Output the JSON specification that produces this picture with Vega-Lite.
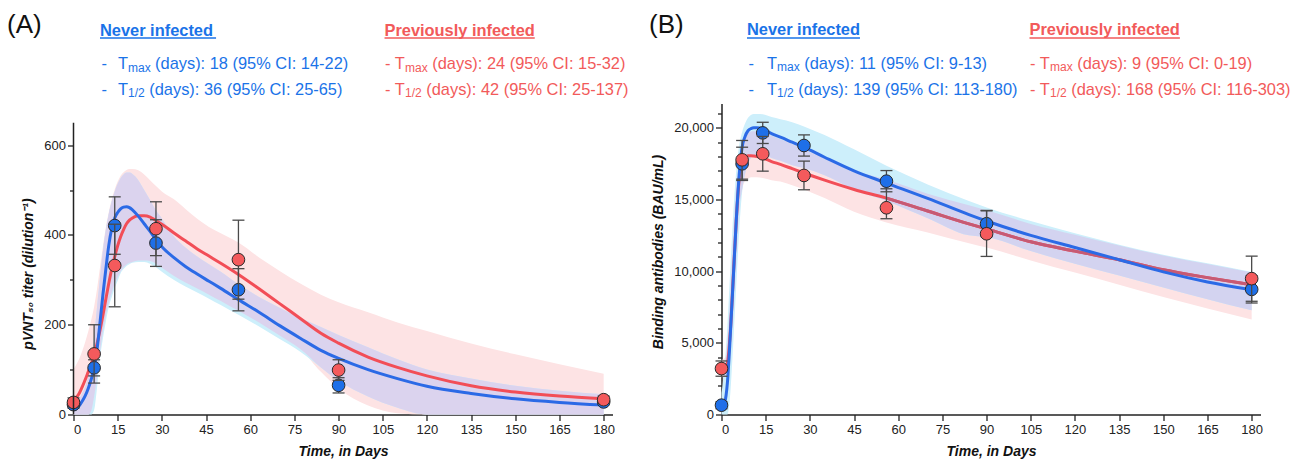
{
"$schema":"https://vega.github.io/schema/vega-lite/v6.json",
"background":"white",
"padding":{"left":6.5,"top":11.5,"right":5,"bottom":2},
"config":{"view":{"stroke":null},"font":"Liberation Sans",
"axis":{"grid":false,"domainColor":"#222","domainWidth":1.5,"tickColor":"#222","tickWidth":1.3,"labelFont":"Liberation Sans","labelFontSize":13,"labelColor":"#222","titleFont":"Liberation Sans","titleFontSize":14,"titleFontWeight":"bold","titleFontStyle":"italic","titleColor":"#111"}},
"datasets":{
"curvesA":[
{"day":0,"grp":"never","fit":10,"lo":0,"hi":22},{"day":1,"grp":"never","fit":14,"lo":0,"hi":28},{"day":2,"grp":"never","fit":20,"lo":0,"hi":36},{"day":3,"grp":"never","fit":30,"lo":0,"hi":48},{"day":4,"grp":"never","fit":42,"lo":0,"hi":62},{"day":5,"grp":"never","fit":58,"lo":0,"hi":85},{"day":6,"grp":"never","fit":78,"lo":0,"hi":120},{"day":7,"grp":"never","fit":104,"lo":10,"hi":175},{"day":8,"grp":"never","fit":145,"lo":60,"hi":240},{"day":9,"grp":"never","fit":205,"lo":125,"hi":305},{"day":10,"grp":"never","fit":268,"lo":170,"hi":365},{"day":11,"grp":"never","fit":325,"lo":208,"hi":412},{"day":12,"grp":"never","fit":378,"lo":240,"hi":448},{"day":13,"grp":"never","fit":415,"lo":262,"hi":475},{"day":14,"grp":"never","fit":438,"lo":282,"hi":497},{"day":15,"grp":"never","fit":450,"lo":298,"hi":514},{"day":16,"grp":"never","fit":458,"lo":315,"hi":527},{"day":17,"grp":"never","fit":462,"lo":324,"hi":535},{"day":18,"grp":"never","fit":463,"lo":331,"hi":539},{"day":19,"grp":"never","fit":461,"lo":335,"hi":539},{"day":20,"grp":"never","fit":456,"lo":338,"hi":536},{"day":22,"grp":"never","fit":442,"lo":340,"hi":522},{"day":24,"grp":"never","fit":425,"lo":340,"hi":500},{"day":26,"grp":"never","fit":408,"lo":336,"hi":478},{"day":28,"grp":"never","fit":390,"lo":328,"hi":455},{"day":30,"grp":"never","fit":374,"lo":318,"hi":437},{"day":34,"grp":"never","fit":350,"lo":300,"hi":398},{"day":38,"grp":"never","fit":330,"lo":285,"hi":372},{"day":42,"grp":"never","fit":313,"lo":272,"hi":352},{"day":46,"grp":"never","fit":297,"lo":258,"hi":335},{"day":50,"grp":"never","fit":281,"lo":244,"hi":318},{"day":56,"grp":"never","fit":256,"lo":222,"hi":290},{"day":63,"grp":"never","fit":228,"lo":196,"hi":262},{"day":70,"grp":"never","fit":198,"lo":168,"hi":238},{"day":77,"grp":"never","fit":170,"lo":140,"hi":215},{"day":84,"grp":"never","fit":143,"lo":105,"hi":195},{"day":90,"grp":"never","fit":125,"lo":75,"hi":177},{"day":100,"grp":"never","fit":100,"lo":40,"hi":150},{"day":110,"grp":"never","fit":80,"lo":15,"hi":123},{"day":120,"grp":"never","fit":63,"lo":0,"hi":100},{"day":135,"grp":"never","fit":47,"lo":0,"hi":80},{"day":150,"grp":"never","fit":35,"lo":0,"hi":64},{"day":165,"grp":"never","fit":27,"lo":0,"hi":53},{"day":180,"grp":"never","fit":21,"lo":0,"hi":45},
{"day":0,"grp":"prev","fit":30,"lo":0,"hi":100},{"day":1,"grp":"prev","fit":38,"lo":0,"hi":112},{"day":2,"grp":"prev","fit":48,"lo":0,"hi":125},{"day":3,"grp":"prev","fit":62,"lo":0,"hi":142},{"day":4,"grp":"prev","fit":78,"lo":0,"hi":162},{"day":5,"grp":"prev","fit":95,"lo":0,"hi":185},{"day":6,"grp":"prev","fit":112,"lo":8,"hi":210},{"day":7,"grp":"prev","fit":132,"lo":40,"hi":240},{"day":8,"grp":"prev","fit":158,"lo":85,"hi":280},{"day":9,"grp":"prev","fit":188,"lo":140,"hi":328},{"day":10,"grp":"prev","fit":222,"lo":185,"hi":375},{"day":11,"grp":"prev","fit":258,"lo":222,"hi":418},{"day":12,"grp":"prev","fit":293,"lo":250,"hi":452},{"day":13,"grp":"prev","fit":325,"lo":272,"hi":480},{"day":14,"grp":"prev","fit":352,"lo":292,"hi":502},{"day":15,"grp":"prev","fit":376,"lo":307,"hi":519},{"day":16,"grp":"prev","fit":396,"lo":319,"hi":532},{"day":17,"grp":"prev","fit":412,"lo":328,"hi":540},{"day":18,"grp":"prev","fit":425,"lo":334,"hi":545},{"day":19,"grp":"prev","fit":433,"lo":338,"hi":547},{"day":20,"grp":"prev","fit":438,"lo":340,"hi":547},{"day":22,"grp":"prev","fit":443,"lo":343,"hi":544},{"day":24,"grp":"prev","fit":443,"lo":343,"hi":535},{"day":26,"grp":"prev","fit":440,"lo":342,"hi":522},{"day":28,"grp":"prev","fit":432,"lo":336,"hi":509},{"day":30,"grp":"prev","fit":424,"lo":327,"hi":497},{"day":34,"grp":"prev","fit":405,"lo":309,"hi":480},{"day":38,"grp":"prev","fit":387,"lo":294,"hi":458},{"day":42,"grp":"prev","fit":369,"lo":281,"hi":436},{"day":46,"grp":"prev","fit":353,"lo":267,"hi":418},{"day":50,"grp":"prev","fit":337,"lo":253,"hi":404},{"day":56,"grp":"prev","fit":312,"lo":231,"hi":383},{"day":63,"grp":"prev","fit":280,"lo":205,"hi":350},{"day":70,"grp":"prev","fit":247,"lo":176,"hi":320},{"day":77,"grp":"prev","fit":214,"lo":146,"hi":292},{"day":84,"grp":"prev","fit":181,"lo":95,"hi":267},{"day":90,"grp":"prev","fit":159,"lo":58,"hi":250},{"day":100,"grp":"prev","fit":128,"lo":20,"hi":228},{"day":110,"grp":"prev","fit":105,"lo":3,"hi":205},{"day":120,"grp":"prev","fit":86,"lo":0,"hi":186},{"day":135,"grp":"prev","fit":64,"lo":0,"hi":158},{"day":150,"grp":"prev","fit":50,"lo":0,"hi":134},{"day":165,"grp":"prev","fit":41,"lo":0,"hi":112},{"day":180,"grp":"prev","fit":35,"lo":0,"hi":91},
{"day":0,"grp":"both","lo":0,"hi":22},{"day":1,"grp":"both","lo":0,"hi":28},{"day":2,"grp":"both","lo":0,"hi":36},{"day":3,"grp":"both","lo":0,"hi":48},{"day":4,"grp":"both","lo":0,"hi":62},{"day":5,"grp":"both","lo":0,"hi":85},{"day":6,"grp":"both","lo":8,"hi":120},{"day":7,"grp":"both","lo":40,"hi":175},{"day":8,"grp":"both","lo":85,"hi":240},{"day":9,"grp":"both","lo":140,"hi":305},{"day":10,"grp":"both","lo":185,"hi":365},{"day":11,"grp":"both","lo":222,"hi":412},{"day":12,"grp":"both","lo":250,"hi":448},{"day":13,"grp":"both","lo":272,"hi":475},{"day":14,"grp":"both","lo":292,"hi":497},{"day":15,"grp":"both","lo":307,"hi":514},{"day":16,"grp":"both","lo":319,"hi":527},{"day":17,"grp":"both","lo":328,"hi":535},{"day":18,"grp":"both","lo":334,"hi":539},{"day":19,"grp":"both","lo":338,"hi":539},{"day":20,"grp":"both","lo":340,"hi":536},{"day":22,"grp":"both","lo":343,"hi":522},{"day":24,"grp":"both","lo":343,"hi":500},{"day":26,"grp":"both","lo":342,"hi":478},{"day":28,"grp":"both","lo":336,"hi":455},{"day":30,"grp":"both","lo":327,"hi":437},{"day":34,"grp":"both","lo":309,"hi":398},{"day":38,"grp":"both","lo":294,"hi":372},{"day":42,"grp":"both","lo":281,"hi":352},{"day":46,"grp":"both","lo":267,"hi":335},{"day":50,"grp":"both","lo":253,"hi":318},{"day":56,"grp":"both","lo":231,"hi":290},{"day":63,"grp":"both","lo":205,"hi":262},{"day":70,"grp":"both","lo":176,"hi":238},{"day":77,"grp":"both","lo":146,"hi":215},{"day":84,"grp":"both","lo":105,"hi":195},{"day":90,"grp":"both","lo":75,"hi":177},{"day":100,"grp":"both","lo":40,"hi":150},{"day":110,"grp":"both","lo":15,"hi":123},{"day":120,"grp":"both","lo":0,"hi":100},{"day":135,"grp":"both","lo":0,"hi":80},{"day":150,"grp":"both","lo":0,"hi":64},{"day":165,"grp":"both","lo":0,"hi":53},{"day":180,"grp":"both","lo":0,"hi":45}],
"ptsA":[
{"day":0,"grp":"never","mean":22,"lo":14,"hi":30},{"day":7,"grp":"never","mean":104,"lo":86,"hi":122},{"day":14,"grp":"never","mean":421,"lo":357,"hi":485},{"day":28,"grp":"never","mean":382,"lo":330,"hi":434},{"day":56,"grp":"never","mean":278,"lo":231,"hi":325},{"day":90,"grp":"never","mean":65,"lo":48,"hi":82},{"day":180,"grp":"never","mean":28,"lo":22,"hi":34},
{"day":0,"grp":"prev","mean":27,"lo":17,"hi":37},{"day":7,"grp":"prev","mean":135,"lo":70,"hi":200},{"day":14,"grp":"prev","mean":332,"lo":240,"hi":424},{"day":28,"grp":"prev","mean":414,"lo":354,"hi":474},{"day":56,"grp":"prev","mean":345,"lo":257,"hi":433},{"day":90,"grp":"prev","mean":99,"lo":76,"hi":122},{"day":180,"grp":"prev","mean":33,"lo":25,"hi":41}],
"notesA":[
{"note":"(A)","day":-22.58,"value":851.2,"grp":"label","kind":"panel"},
{"note":"Never infected","day":9.0,"value":844.5,"grp":"never","kind":"head"},
{"note":"Previously infected","day":105.59,"value":844.5,"grp":"prev","kind":"head"},
{"note":"-","day":9.51,"value":770.3,"grp":"never","kind":"body"},
{"note":"T","day":15.11,"value":770.3,"grp":"never","kind":"body"},
{"note":"max","day":18.5,"value":764.3,"grp":"never","kind":"sub"},
{"note":"(days): 18 (95% CI: 14-22)","day":27.7,"value":770.3,"grp":"never","kind":"body"},
{"note":"-","day":9.51,"value":712.4,"grp":"never","kind":"body"},
{"note":"T","day":15.11,"value":712.4,"grp":"never","kind":"body"},
{"note":"1/2","day":18.5,"value":706.4,"grp":"never","kind":"sub"},
{"note":"(days): 36 (95% CI: 25-65)","day":25.73,"value":712.4,"grp":"never","kind":"body"},
{"note":"- T","day":105.76,"value":770.3,"grp":"prev","kind":"body"},
{"note":"max","day":112.55,"value":764.3,"grp":"prev","kind":"sub"},
{"note":"(days): 24 (95% CI: 15-32)","day":121.81,"value":770.3,"grp":"prev","kind":"body"},
{"note":"- T","day":105.76,"value":712.4,"grp":"prev","kind":"body"},
{"note":"1/2","day":112.55,"value":706.4,"grp":"prev","kind":"sub"},
{"note":"(days): 42 (95% CI: 25-137)","day":119.78,"value":712.4,"grp":"prev","kind":"body"}],
"linesA":[{"day":9.0,"day2":48.4,"value":838.9,"grp":"never"},{"day":105.6,"day2":156.6,"value":838.9,"grp":"prev"}],
"curvesB":[
{"day":0,"grp":"never","fit":300,"lo":0,"hi":1500},{"day":1,"grp":"never","fit":700,"lo":0,"hi":3200},{"day":2,"grp":"never","fit":2200,"lo":0,"hi":6200},{"day":3,"grp":"never","fit":5600,"lo":1500,"hi":10200},{"day":4,"grp":"never","fit":9500,"lo":5000,"hi":14000},{"day":5,"grp":"never","fit":13500,"lo":9000,"hi":17000},{"day":6,"grp":"never","fit":16700,"lo":12800,"hi":18800},{"day":7,"grp":"never","fit":18650,"lo":15500,"hi":19700},{"day":8,"grp":"never","fit":19400,"lo":16800,"hi":20300},{"day":9,"grp":"never","fit":19800,"lo":17500,"hi":20700},{"day":10,"grp":"never","fit":19950,"lo":17900,"hi":20900},{"day":11,"grp":"never","fit":20000,"lo":18050,"hi":20970},{"day":12,"grp":"never","fit":20000,"lo":18100,"hi":20975},{"day":14,"grp":"never","fit":19930,"lo":18100,"hi":20950},{"day":17,"grp":"never","fit":19600,"lo":17900,"hi":20750},{"day":20,"grp":"never","fit":19350,"lo":17700,"hi":20600},{"day":24,"grp":"never","fit":19000,"lo":17400,"hi":20400},{"day":28,"grp":"never","fit":18650,"lo":17200,"hi":20100},{"day":35,"grp":"never","fit":17950,"lo":16700,"hi":19500},{"day":45,"grp":"never","fit":17000,"lo":15700,"hi":18500},{"day":56,"grp":"never","fit":16150,"lo":14900,"hi":17350},{"day":70,"grp":"never","fit":15080,"lo":13700,"hi":16050},{"day":84,"grp":"never","fit":13950,"lo":12500,"hi":14900},{"day":90,"grp":"never","fit":13500,"lo":12380,"hi":14450},{"day":105,"grp":"never","fit":12500,"lo":11400,"hi":13500},{"day":120,"grp":"never","fit":11650,"lo":10520,"hi":12650},{"day":135,"grp":"never","fit":10800,"lo":9700,"hi":11850},{"day":150,"grp":"never","fit":9950,"lo":8870,"hi":11150},{"day":165,"grp":"never","fit":9250,"lo":8050,"hi":10550},{"day":180,"grp":"never","fit":8700,"lo":7270,"hi":9950},
{"day":0,"grp":"prev","fit":3200,"lo":2600,"hi":3800},{"day":1,"grp":"prev","fit":3250,"lo":2650,"hi":3900},{"day":2,"grp":"prev","fit":3600,"lo":2800,"hi":5000},{"day":3,"grp":"prev","fit":5800,"lo":3800,"hi":8500},{"day":4,"grp":"prev","fit":9600,"lo":7000,"hi":12500},{"day":5,"grp":"prev","fit":13500,"lo":11000,"hi":15800},{"day":6,"grp":"prev","fit":16400,"lo":14300,"hi":17900},{"day":7,"grp":"prev","fit":17600,"lo":15700,"hi":18800},{"day":8,"grp":"prev","fit":17950,"lo":16300,"hi":19500},{"day":9,"grp":"prev","fit":18050,"lo":16450,"hi":19650},{"day":10,"grp":"prev","fit":18050,"lo":16550,"hi":19750},{"day":11,"grp":"prev","fit":18030,"lo":16560,"hi":19760},{"day":12,"grp":"prev","fit":18000,"lo":16550,"hi":19760},{"day":14,"grp":"prev","fit":17900,"lo":16500,"hi":19700},{"day":17,"grp":"prev","fit":17650,"lo":16350,"hi":19450},{"day":20,"grp":"prev","fit":17450,"lo":16250,"hi":19200},{"day":24,"grp":"prev","fit":17150,"lo":16000,"hi":18900},{"day":28,"grp":"prev","fit":16850,"lo":15700,"hi":18500},{"day":35,"grp":"prev","fit":16350,"lo":15100,"hi":17900},{"day":45,"grp":"prev","fit":15700,"lo":14150,"hi":17000},{"day":56,"grp":"prev","fit":15100,"lo":13400,"hi":16400},{"day":70,"grp":"prev","fit":14200,"lo":12700,"hi":15400},{"day":84,"grp":"prev","fit":13300,"lo":11950,"hi":14600},{"day":90,"grp":"prev","fit":12950,"lo":11650,"hi":14250},{"day":105,"grp":"prev","fit":12050,"lo":10750,"hi":13300},{"day":120,"grp":"prev","fit":11400,"lo":9900,"hi":12550},{"day":135,"grp":"prev","fit":10800,"lo":9050,"hi":11800},{"day":150,"grp":"prev","fit":10100,"lo":8200,"hi":11100},{"day":165,"grp":"prev","fit":9550,"lo":7400,"hi":10500},{"day":180,"grp":"prev","fit":9050,"lo":6620,"hi":9900},
{"day":0,"grp":"both","lo":1500,"hi":1500},{"day":1,"grp":"both","lo":2650,"hi":3200},{"day":2,"grp":"both","lo":2800,"hi":5000},{"day":3,"grp":"both","lo":3800,"hi":8500},{"day":4,"grp":"both","lo":7000,"hi":12500},{"day":5,"grp":"both","lo":11000,"hi":15800},{"day":6,"grp":"both","lo":14300,"hi":17900},{"day":7,"grp":"both","lo":15700,"hi":18800},{"day":8,"grp":"both","lo":16800,"hi":19500},{"day":9,"grp":"both","lo":17500,"hi":19650},{"day":10,"grp":"both","lo":17900,"hi":19750},{"day":11,"grp":"both","lo":18050,"hi":19760},{"day":12,"grp":"both","lo":18100,"hi":19760},{"day":14,"grp":"both","lo":18100,"hi":19700},{"day":17,"grp":"both","lo":17900,"hi":19450},{"day":20,"grp":"both","lo":17700,"hi":19200},{"day":24,"grp":"both","lo":17400,"hi":18900},{"day":28,"grp":"both","lo":17200,"hi":18500},{"day":35,"grp":"both","lo":16700,"hi":17900},{"day":45,"grp":"both","lo":15700,"hi":17000},{"day":56,"grp":"both","lo":14900,"hi":16400},{"day":70,"grp":"both","lo":13700,"hi":15400},{"day":84,"grp":"both","lo":12500,"hi":14600},{"day":90,"grp":"both","lo":12380,"hi":14250},{"day":105,"grp":"both","lo":11400,"hi":13300},{"day":120,"grp":"both","lo":10520,"hi":12550},{"day":135,"grp":"both","lo":9700,"hi":11800},{"day":150,"grp":"both","lo":8870,"hi":11100},{"day":165,"grp":"both","lo":8050,"hi":10500},{"day":180,"grp":"both","lo":7270,"hi":9900}],
"ptsB":[
{"day":0,"grp":"never","mean":650,"lo":400,"hi":900},{"day":7,"grp":"never","mean":17490,"lo":16330,"hi":18650},{"day":14,"grp":"never","mean":19650,"lo":18910,"hi":20390},{"day":28,"grp":"never","mean":18770,"lo":18030,"hi":19510},{"day":56,"grp":"never","mean":16280,"lo":15540,"hi":17020},{"day":90,"grp":"never","mean":13310,"lo":12410,"hi":14210},{"day":180,"grp":"never","mean":8730,"lo":7780,"hi":9680},
{"day":0,"grp":"prev","mean":3205,"lo":2670,"hi":3735},{"day":7,"grp":"prev","mean":17770,"lo":16420,"hi":19120},{"day":14,"grp":"prev","mean":18190,"lo":16980,"hi":19400},{"day":28,"grp":"prev","mean":16680,"lo":15680,"hi":17680},{"day":56,"grp":"prev","mean":14425,"lo":13660,"hi":15750},{"day":90,"grp":"prev","mean":12610,"lo":11030,"hi":14240},{"day":180,"grp":"prev","mean":9480,"lo":7900,"hi":11050}],
"notesB":[
{"note":"(B)","day":-24.61,"value":26654,"grp":"label","kind":"panel"},
{"note":"Never infected","day":8.66,"value":26445,"grp":"never","kind":"head"},
{"note":"Previously infected","day":104.57,"value":26445,"grp":"prev","kind":"head"},
{"note":"-","day":9.17,"value":24121,"grp":"never","kind":"body"},
{"note":"T","day":15.45,"value":24121,"grp":"never","kind":"body"},
{"note":"max","day":18.84,"value":23933,"grp":"never","kind":"sub"},
{"note":"(days): 11 (95% CI: 9-13)","day":28.1,"value":24121,"grp":"never","kind":"body"},
{"note":"-","day":9.17,"value":22307,"grp":"never","kind":"body"},
{"note":"T","day":15.45,"value":22307,"grp":"never","kind":"body"},
{"note":"1/2","day":18.84,"value":22119,"grp":"never","kind":"sub"},
{"note":"(days): 139 (95% CI: 113-180)","day":26.07,"value":22307,"grp":"never","kind":"body"},
{"note":"- T","day":104.74,"value":24121,"grp":"prev","kind":"body"},
{"note":"max","day":111.53,"value":23933,"grp":"prev","kind":"sub"},
{"note":"(days): 9 (95% CI: 0-19)","day":120.8,"value":24121,"grp":"prev","kind":"body"},
{"note":"- T","day":104.74,"value":22307,"grp":"prev","kind":"body"},
{"note":"1/2","day":111.53,"value":22119,"grp":"prev","kind":"sub"},
{"note":"(days): 168 (95% CI: 116-303)","day":118.76,"value":22307,"grp":"prev","kind":"body"}],
"linesB":[{"day":8.66,"day2":47.02,"value":26270,"grp":"never"},{"day":104.57,"day2":155.63,"value":26270,"grp":"prev"}]
},
"spacing":109,
"bounds":"flush",
"hconcat":[
{"width":539,"height":311,
"layer":[
{"data":{"name":"curvesA"},"transform":[{"filter":"datum.grp === 'prev'"}],"mark":{"type":"area","color":"#FDE3E4","interpolate":"monotone"},
"encoding":{"x":{"field":"day","type":"quantitative","scale":{"domain":[0,183],"nice":false,"zero":false},"axis":{"title":"Time, in Days","values":[0,7.5,15,22.5,30,37.5,45,52.5,60,67.5,75,82.5,90,97.5,105,112.5,120,127.5,135,142.5,150,157.5,165,172.5,180],"labelExpr":"datum.value % 15 === 0 ? format(datum.value, 'd') : ''","tickSize":{"condition":{"test":"datum.value % 15 === 0","value":6},"value":4},"labelPadding":3,"titlePadding":8,"labelOverlap":false}},
"y":{"field":"lo","type":"quantitative","scale":{"domain":[0,693],"nice":false},"axis":{"title":"pVNT₅₀ titer (dilution⁻¹)","values":[0,50,100,150,200,250,300,350,400,450,500,550,600,650],"labelExpr":"datum.value % 200 === 0 ? format(datum.value, 'd') : ''","tickSize":{"condition":{"test":"datum.value % 200 === 0","value":6},"value":4},"domain":false,"labelPadding":2,"titlePadding":8,"titleY":170,"labelOverlap":false}},
"y2":{"field":"hi"}}},
{"data":{"name":"curvesA"},"transform":[{"filter":"datum.grp === 'never'"}],"mark":{"type":"area","color":"#CDEFFB","interpolate":"monotone"},"encoding":{"x":{"field":"day","type":"quantitative"},"y":{"field":"lo","type":"quantitative"},"y2":{"field":"hi"}}},
{"data":{"name":"curvesA"},"transform":[{"filter":"datum.grp === 'both'"}],"mark":{"type":"area","color":"#DBD3EE","interpolate":"monotone"},"encoding":{"x":{"field":"day","type":"quantitative"},"y":{"field":"lo","type":"quantitative"},"y2":{"field":"hi"}}},
{"data":{"name":"curvesA"},"transform":[{"filter":"datum.grp === 'prev'"}],"mark":{"type":"line","color":"#F24E57","strokeWidth":3,"interpolate":"monotone"},"encoding":{"x":{"field":"day","type":"quantitative"},"y":{"field":"fit","type":"quantitative"}}},
{"data":{"name":"curvesA"},"transform":[{"filter":"datum.grp === 'never'"}],"mark":{"type":"line","color":"#2B6AE6","strokeWidth":3,"interpolate":"monotone"},"encoding":{"x":{"field":"day","type":"quantitative"},"y":{"field":"fit","type":"quantitative"}}},
{"data":{"name":"ptsA"},"transform":[{"filter":"datum.grp === 'never'"}],"mark":{"type":"rule","color":"#4a4a4a","strokeWidth":1.3},"encoding":{"x":{"field":"day","type":"quantitative"},"y":{"field":"lo","type":"quantitative"},"y2":{"field":"hi"}}},
{"data":{"name":"ptsA"},"transform":[{"filter":"datum.grp === 'never'"}],"mark":{"type":"tick","orient":"horizontal","size":12,"thickness":1.3,"color":"#4a4a4a","opacity":1},"encoding":{"x":{"field":"day","type":"quantitative"},"y":{"field":"lo","type":"quantitative"}}},
{"data":{"name":"ptsA"},"transform":[{"filter":"datum.grp === 'never'"}],"mark":{"type":"tick","orient":"horizontal","size":12,"thickness":1.3,"color":"#4a4a4a","opacity":1},"encoding":{"x":{"field":"day","type":"quantitative"},"y":{"field":"hi","type":"quantitative"}}},
{"data":{"name":"ptsA"},"transform":[{"filter":"datum.grp === 'never'"}],"mark":{"type":"circle","size":160,"color":"#1E6FE8","stroke":"#2a2a2a","strokeWidth":1,"opacity":1},"encoding":{"x":{"field":"day","type":"quantitative"},"y":{"field":"mean","type":"quantitative"}}},
{"data":{"name":"ptsA"},"transform":[{"filter":"datum.grp === 'prev'"}],"mark":{"type":"rule","color":"#4a4a4a","strokeWidth":1.3},"encoding":{"x":{"field":"day","type":"quantitative"},"y":{"field":"lo","type":"quantitative"},"y2":{"field":"hi"}}},
{"data":{"name":"ptsA"},"transform":[{"filter":"datum.grp === 'prev'"}],"mark":{"type":"tick","orient":"horizontal","size":12,"thickness":1.3,"color":"#4a4a4a","opacity":1},"encoding":{"x":{"field":"day","type":"quantitative"},"y":{"field":"lo","type":"quantitative"}}},
{"data":{"name":"ptsA"},"transform":[{"filter":"datum.grp === 'prev'"}],"mark":{"type":"tick","orient":"horizontal","size":12,"thickness":1.3,"color":"#4a4a4a","opacity":1},"encoding":{"x":{"field":"day","type":"quantitative"},"y":{"field":"hi","type":"quantitative"}}},
{"data":{"name":"ptsA"},"transform":[{"filter":"datum.grp === 'prev'"}],"mark":{"type":"circle","size":160,"color":"#F45A5C","stroke":"#2a2a2a","strokeWidth":1,"opacity":1},"encoding":{"x":{"field":"day","type":"quantitative"},"y":{"field":"mean","type":"quantitative"}}},
{"data":{"values":[{}]},"mark":{"type":"rule","color":"#222","strokeWidth":1.5},"encoding":{"x":{"datum":0,"type":"quantitative"},"y":{"datum":0,"type":"quantitative"},"y2":{"datum":650}}},
{"data":{"name":"notesA"},"transform":[{"filter":"datum.kind === 'panel'"}],"mark":{"type":"text","align":"left","baseline":"alphabetic","fontSize":26},"encoding":{"x":{"field":"day","type":"quantitative"},"y":{"field":"value","type":"quantitative"},"text":{"field":"note"},"color":{"field":"grp","type":"nominal","scale":{"domain":["never","prev","label"],"range":["#1A73E8","#F25A5A","#111111"]},"legend":null}}},
{"data":{"name":"notesA"},"transform":[{"filter":"datum.kind === 'head'"}],"mark":{"type":"text","align":"left","baseline":"alphabetic","fontSize":16.4,"fontWeight":"bold"},"encoding":{"x":{"field":"day","type":"quantitative"},"y":{"field":"value","type":"quantitative"},"text":{"field":"note"},"color":{"field":"grp","type":"nominal","legend":null}}},
{"data":{"name":"linesA"},"mark":{"type":"rule","strokeWidth":1.4},"encoding":{"x":{"field":"day","type":"quantitative"},"x2":{"field":"day2"},"y":{"field":"value","type":"quantitative"},"color":{"field":"grp","type":"nominal","legend":null}}},
{"data":{"name":"notesA"},"transform":[{"filter":"datum.kind === 'body'"}],"mark":{"type":"text","align":"left","baseline":"alphabetic","fontSize":16.4},"encoding":{"x":{"field":"day","type":"quantitative"},"y":{"field":"value","type":"quantitative"},"text":{"field":"note"},"color":{"field":"grp","type":"nominal","legend":null}}},
{"data":{"name":"notesA"},"transform":[{"filter":"datum.kind === 'sub'"}],"mark":{"type":"text","align":"left","baseline":"alphabetic","fontSize":12},"encoding":{"x":{"field":"day","type":"quantitative"},"y":{"field":"value","type":"quantitative"},"text":{"field":"note"},"color":{"field":"grp","type":"nominal","legend":null}}}
]},
{"width":539,"height":311,
"resolve":{"axis":{"y":"independent"}},
"layer":[
{"data":{"name":"curvesB"},"transform":[{"filter":"datum.grp === 'prev'"}],"mark":{"type":"area","color":"#FDE3E4","interpolate":"monotone"},
"encoding":{"x":{"field":"day","type":"quantitative","scale":{"domain":[0,183],"nice":false,"zero":false},"axis":{"title":"Time, in Days","values":[0,7.5,15,22.5,30,37.5,45,52.5,60,67.5,75,82.5,90,97.5,105,112.5,120,127.5,135,142.5,150,157.5,165,172.5,180],"labelExpr":"datum.value % 15 === 0 ? format(datum.value, 'd') : ''","tickSize":{"condition":{"test":"datum.value % 15 === 0","value":6},"value":4},"labelPadding":3,"titlePadding":8,"labelOverlap":false}},
"y":{"field":"lo","type":"quantitative","scale":{"domain":[0,21700],"nice":false},"axis":{"orient":"left","title":"Binding antibodies (BAU/mL)","values":[0,5000,10000,15000,20000],"format":",d","tickSize":6,"labelPadding":2,"titlePadding":8,"titleY":148,"labelOverlap":false}},
"y2":{"field":"hi"}}},
{"data":{"name":"curvesB"},"transform":[{"filter":"datum.grp === 'never'"}],"mark":{"type":"area","color":"#CDEFFB","interpolate":"monotone"},"encoding":{"x":{"field":"day","type":"quantitative"},"y":{"field":"lo","type":"quantitative","axis":{"orient":"left","title":null,"values":[1000,2000,3000,4000,6000,7000,8000,9000,11000,12000,13000,14000,16000,17000,18000,19000,21000],"labels":false,"domain":false,"tickSize":4}},"y2":{"field":"hi"}}},
{"data":{"name":"curvesB"},"transform":[{"filter":"datum.grp === 'both'"}],"mark":{"type":"area","color":"#D3D3F0","interpolate":"monotone"},"encoding":{"x":{"field":"day","type":"quantitative"},"y":{"field":"lo","type":"quantitative","axis":null},"y2":{"field":"hi"}}},
{"data":{"name":"curvesB"},"transform":[{"filter":"datum.grp === 'prev'"}],"mark":{"type":"line","color":"#F24E57","strokeWidth":3,"interpolate":"monotone"},"encoding":{"x":{"field":"day","type":"quantitative"},"y":{"field":"fit","type":"quantitative","axis":null}}},
{"data":{"name":"curvesB"},"transform":[{"filter":"datum.grp === 'prev' && datum.day >= 56"}],"mark":{"type":"line","color":"#C65A74","strokeWidth":3,"interpolate":"monotone"},"encoding":{"x":{"field":"day","type":"quantitative"},"y":{"field":"fit","type":"quantitative","axis":null}}},
{"data":{"name":"curvesB"},"transform":[{"filter":"datum.grp === 'never'"}],"mark":{"type":"line","color":"#2B6AE6","strokeWidth":3,"interpolate":"monotone"},"encoding":{"x":{"field":"day","type":"quantitative"},"y":{"field":"fit","type":"quantitative","axis":null}}},
{"data":{"name":"ptsB"},"transform":[{"filter":"datum.grp === 'never'"}],"mark":{"type":"rule","color":"#4a4a4a","strokeWidth":1.3},"encoding":{"x":{"field":"day","type":"quantitative"},"y":{"field":"lo","type":"quantitative","axis":null},"y2":{"field":"hi"}}},
{"data":{"name":"ptsB"},"transform":[{"filter":"datum.grp === 'never'"}],"mark":{"type":"tick","orient":"horizontal","size":12,"thickness":1.3,"color":"#4a4a4a","opacity":1},"encoding":{"x":{"field":"day","type":"quantitative"},"y":{"field":"lo","type":"quantitative","axis":null}}},
{"data":{"name":"ptsB"},"transform":[{"filter":"datum.grp === 'never'"}],"mark":{"type":"tick","orient":"horizontal","size":12,"thickness":1.3,"color":"#4a4a4a","opacity":1},"encoding":{"x":{"field":"day","type":"quantitative"},"y":{"field":"hi","type":"quantitative","axis":null}}},
{"data":{"name":"ptsB"},"transform":[{"filter":"datum.grp === 'never'"}],"mark":{"type":"circle","size":160,"color":"#1E6FE8","stroke":"#2a2a2a","strokeWidth":1,"opacity":1},"encoding":{"x":{"field":"day","type":"quantitative"},"y":{"field":"mean","type":"quantitative","axis":null}}},
{"data":{"name":"ptsB"},"transform":[{"filter":"datum.grp === 'prev'"}],"mark":{"type":"rule","color":"#4a4a4a","strokeWidth":1.3},"encoding":{"x":{"field":"day","type":"quantitative"},"y":{"field":"lo","type":"quantitative","axis":null},"y2":{"field":"hi"}}},
{"data":{"name":"ptsB"},"transform":[{"filter":"datum.grp === 'prev'"}],"mark":{"type":"tick","orient":"horizontal","size":12,"thickness":1.3,"color":"#4a4a4a","opacity":1},"encoding":{"x":{"field":"day","type":"quantitative"},"y":{"field":"lo","type":"quantitative","axis":null}}},
{"data":{"name":"ptsB"},"transform":[{"filter":"datum.grp === 'prev'"}],"mark":{"type":"tick","orient":"horizontal","size":12,"thickness":1.3,"color":"#4a4a4a","opacity":1},"encoding":{"x":{"field":"day","type":"quantitative"},"y":{"field":"hi","type":"quantitative","axis":null}}},
{"data":{"name":"ptsB"},"transform":[{"filter":"datum.grp === 'prev'"}],"mark":{"type":"circle","size":160,"color":"#F45A5C","stroke":"#2a2a2a","strokeWidth":1,"opacity":1},"encoding":{"x":{"field":"day","type":"quantitative"},"y":{"field":"mean","type":"quantitative","axis":null}}},
{"data":{"name":"notesB"},"transform":[{"filter":"datum.kind === 'panel'"}],"mark":{"type":"text","align":"left","baseline":"alphabetic","fontSize":26},"encoding":{"x":{"field":"day","type":"quantitative"},"y":{"field":"value","type":"quantitative","axis":null},"text":{"field":"note"},"color":{"field":"grp","type":"nominal","scale":{"domain":["never","prev","label"],"range":["#1A73E8","#F25A5A","#111111"]},"legend":null}}},
{"data":{"name":"notesB"},"transform":[{"filter":"datum.kind === 'head'"}],"mark":{"type":"text","align":"left","baseline":"alphabetic","fontSize":16.4,"fontWeight":"bold"},"encoding":{"x":{"field":"day","type":"quantitative"},"y":{"field":"value","type":"quantitative","axis":null},"text":{"field":"note"},"color":{"field":"grp","type":"nominal","legend":null}}},
{"data":{"name":"linesB"},"mark":{"type":"rule","strokeWidth":1.4},"encoding":{"x":{"field":"day","type":"quantitative"},"x2":{"field":"day2"},"y":{"field":"value","type":"quantitative","axis":null},"color":{"field":"grp","type":"nominal","legend":null}}},
{"data":{"name":"notesB"},"transform":[{"filter":"datum.kind === 'body'"}],"mark":{"type":"text","align":"left","baseline":"alphabetic","fontSize":16.4},"encoding":{"x":{"field":"day","type":"quantitative"},"y":{"field":"value","type":"quantitative","axis":null},"text":{"field":"note"},"color":{"field":"grp","type":"nominal","legend":null}}},
{"data":{"name":"notesB"},"transform":[{"filter":"datum.kind === 'sub'"}],"mark":{"type":"text","align":"left","baseline":"alphabetic","fontSize":12},"encoding":{"x":{"field":"day","type":"quantitative"},"y":{"field":"value","type":"quantitative","axis":null},"text":{"field":"note"},"color":{"field":"grp","type":"nominal","legend":null}}}
]}
]
}
